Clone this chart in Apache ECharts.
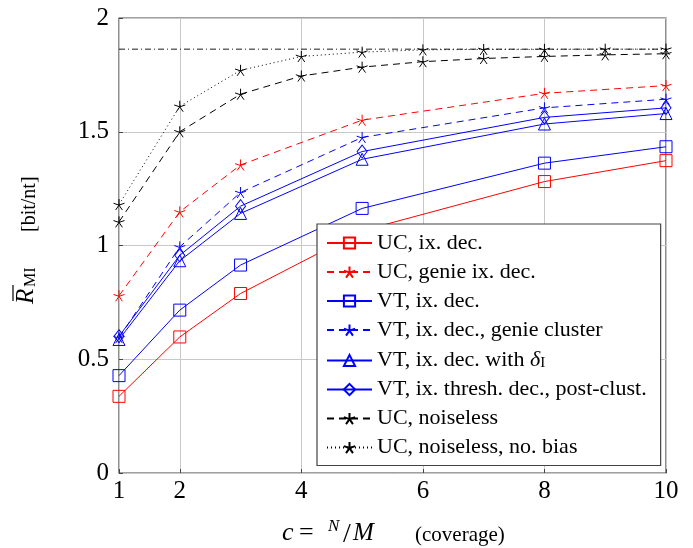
<!DOCTYPE html>
<html>
<head>
<meta charset="utf-8">
<script src="https://cdn.jsdelivr.net/npm/echarts@6/dist/echarts.min.js"></script>
<style>
  html, body { margin: 0; padding: 0; background: #fff; }
  #container { width: 693px; height: 548px; }
</style>
</head>
<body>
<div id="container"></div>
<script>
// coverage values (x) and the rate curves
var coverage = [1, 2, 3, 5, 8, 10];
var coverageAll = [1, 2, 3, 4, 5, 6, 7, 8, 9, 10];
var xTicks = [1, 2, 4, 6, 8, 10];

var ucIxDec = [0.337, 0.598, 0.789, 1.065, 1.281, 1.373];
var ucGenie = [0.779, 1.148, 1.354, 1.551, 1.669, 1.703];
var vtIxDec = [0.428, 0.716, 0.914, 1.163, 1.362, 1.434];
var vtGenieCluster = [0.595, 0.994, 1.233, 1.475, 1.605, 1.643];
var vtDelta = [0.587, 0.933, 1.141, 1.379, 1.534, 1.580];
var vtThresh = [0.601, 0.957, 1.173, 1.413, 1.563, 1.605];
var ucNoiseless = [1.104, 1.500, 1.665, 1.745, 1.784, 1.808, 1.822, 1.831, 1.838, 1.843];
var ucNoBias = [1.180, 1.612, 1.770, 1.831, 1.850, 1.860, 1.862, 1.862, 1.863, 1.863];
var limitX = [1, 10];
var limitY = [1.863, 1.863];

var names = [
  "UC, ix. dec.",
  "UC, genie ix. dec.",
  "VT, ix. dec.",
  "VT, ix. dec., genie cluster",
  "VT, ix. dec. with δI",
  "VT, ix. thresh. dec., post-clust.",
  "UC, noiseless",
  "UC, noiseless, no. bias",
];

var FONT = "Liberation Serif";
var RED = "#ff0000", BLUE = "#0000ff", BLACK = "#000000";
var star = "path://M0,-1 L0,0 M0.951,-0.309 L0,0 M0.588,0.809 L0,0 M-0.588,0.809 L0,0 M-0.951,-0.309 L0,0";

function pairs(xs, ys) {
  return ys.map(function (y, i) { return [xs[i], y]; });
}

function mk(name, xs, ys, color, dash, symbol, size) {
  return {
    name: name,
    type: "line",
    data: pairs(xs, ys),
    symbol: symbol,
    symbolSize: size,
    showSymbol: true,
    z: 3,
    lineStyle: { color: color, width: 1, type: dash },
    itemStyle: { color: "rgba(0,0,0,0)", borderColor: color, borderWidth: 1 },
    emphasis: { disabled: true },
    animation: false,
  };
}

var chart = echarts.init(document.getElementById("container"));

var option = {
  animation: false,
  grid: {
    left: 119, right: 27, top: 18, bottom: 75,
    show: true, borderColor: "#444", borderWidth: 1.2,
  },
  legend: {
    data: names,
    orient: "vertical",
    left: 317, top: 224,
    padding: [8, 14, 7, 9],
    itemGap: 7,
    itemWidth: 45,
    itemHeight: 14,
    backgroundColor: "#fff",
    borderColor: "#444",
    borderWidth: 1.2,
    borderRadius: 0,
    selectedMode: false,
    formatter: function (n) {
      if (n === "VT, ix. dec. with δI") return "{t|VT, ix. dec. with }{d|δ}{s|I}";
      return "{t|" + n + "}";
    },
    textStyle: {
      fontFamily: FONT, fontSize: 22, color: "#000",
      rich: {
        t: { fontFamily: FONT, fontSize: 22, lineHeight: 21, color: "#000" },
        d: { fontFamily: FONT, fontSize: 22, fontStyle: "italic", lineHeight: 21, color: "#000" },
        s: { fontFamily: FONT, fontSize: 15, lineHeight: 21, verticalAlign: "bottom", padding: [8, 0, 0, 0], color: "#000" },
      },
    },
  },
  xAxis: {
    type: "value",
    min: 1, max: 10,
    axisLine: { show: false },
    axisTick: { show: true, inside: true, length: 4, customValues: xTicks, lineStyle: { color: "#444" } },
    axisLabel: { customValues: xTicks, fontFamily: FONT, fontSize: 25, color: "#000", margin: 6 },
    splitLine: { show: true, lineStyle: { color: "#c8c8c8", width: 1 } },
  },
  yAxis: {
    type: "value",
    min: 0, max: 2, interval: 0.5,
    axisLine: { show: false },
    axisTick: { show: true, inside: true, length: 4, lineStyle: { color: "#444" } },
    axisLabel: { fontFamily: FONT, fontSize: 25, color: "#000", margin: 10 },
    splitLine: { show: true, lineStyle: { color: "#c8c8c8", width: 1 } },
  },
  series: [
    {
      name: "limit",
      type: "line",
      data: pairs(limitX, limitY),
      symbol: "none",
      z: 2,
      silent: true,
      lineStyle: { color: BLACK, width: 0.9, type: [6, 3, 1, 3] },
    },
    mk(names[0], coverage, ucIxDec, RED, "solid", "rect", 12),
    mk(names[1], coverage, ucGenie, RED, [7, 5], star, 11),
    mk(names[2], coverage, vtIxDec, BLUE, "solid", "rect", 12),
    mk(names[3], coverage, vtGenieCluster, BLUE, [7, 5], star, 11),
    mk(names[4], coverage, vtDelta, BLUE, "solid", "triangle", 12),
    mk(names[5], coverage, vtThresh, BLUE, "solid", "diamond", [10, 13]),
    mk(names[6], coverageAll, ucNoiseless, BLACK, [7, 5], star, 11),
    mk(names[7], coverageAll, ucNoBias, BLACK, [1, 3], star, 11),
  ],
  graphic: [
    // y axis title: overline R with subscript MI, then unit
    {
      type: "group",
      x: 26, y: 304,
      rotation: Math.PI / 2,
      children: [
        { type: "text", x: 0, y: 0, style: { text: "R", font: "italic 25px '" + FONT + "'", fill: "#000", verticalAlign: "middle" } },
        { type: "line", shape: { x1: 3, y1: -13, x2: 19, y2: -13 }, style: { stroke: "#000", lineWidth: 1.2 } },
        { type: "text", x: 17, y: 5, style: { text: "MI", font: "16px '" + FONT + "'", fill: "#000", verticalAlign: "middle" } },
        { type: "text", x: 72, y: 4, style: { text: "[bit/nt]", font: "20px '" + FONT + "'", fill: "#000", verticalAlign: "middle" } },
      ],
    },
    // x axis title: c = N/M  (coverage)
    { type: "text", x: 282, y: 546, style: { text: "c", font: "italic 26px '" + FONT + "'", fill: "#000", verticalAlign: "bottom" } },
    { type: "text", x: 299, y: 546, style: { text: "=", font: "26px '" + FONT + "'", fill: "#000", verticalAlign: "bottom" } },
    { type: "text", x: 328, y: 535, style: { text: "N", font: "italic 17px '" + FONT + "'", fill: "#000", verticalAlign: "bottom" } },
    { type: "text", x: 343, y: 549, style: { text: "/", font: "28px '" + FONT + "'", fill: "#000", verticalAlign: "bottom" } },
    { type: "text", x: 353, y: 546, style: { text: "M", font: "italic 25px '" + FONT + "'", fill: "#000", verticalAlign: "bottom" } },
    { type: "text", x: 415, y: 546, style: { text: "(coverage)", font: "21px '" + FONT + "'", fill: "#000", verticalAlign: "bottom" } },
  ],
};

chart.setOption(option);
</script>
</body>
</html>
